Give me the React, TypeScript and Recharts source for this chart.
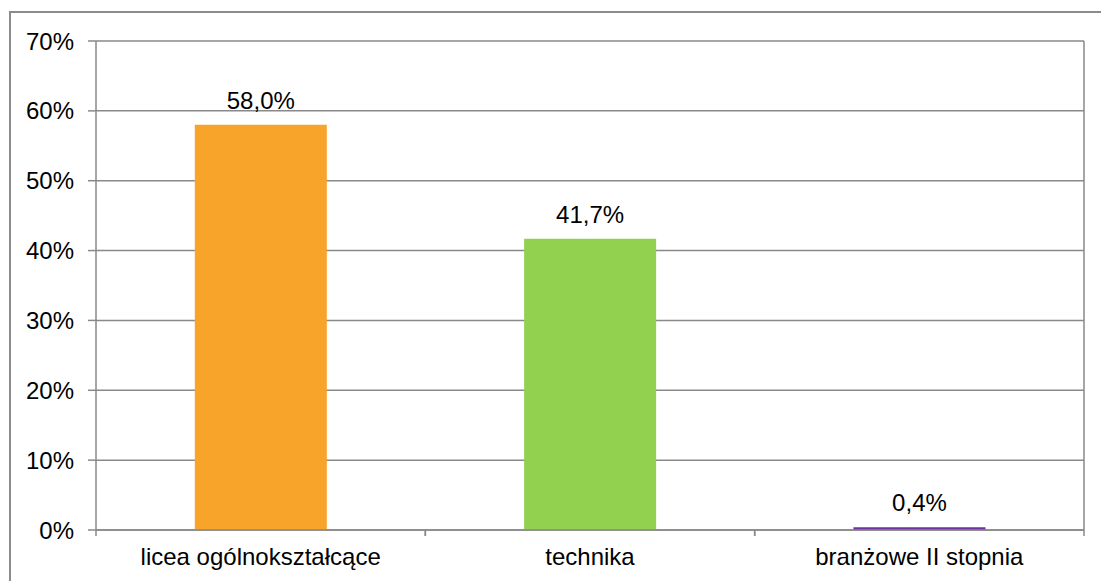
import { Bar, BarChart, CartesianGrid, Cell, LabelList, ReferenceLine, XAxis, YAxis } from "recharts";

const categories = ["licea ogólnokształcące", "technika", "branżowe II stopnia"];
const shares = [58.0, 41.7, 0.4];
const barColors = ["#F8A42B", "#92D050", "#7030A0"];
const yTicks = [0, 10, 20, 30, 40, 50, 60, 70];

const data = categories.map((name, i) => ({ name, share: shares[i] }));

const font = "'Liberation Sans', Arial, sans-serif";
const gray = "#898989";
const TICK_SIZE = 6;
const TICK_MARGIN = 12;

// label plus Excel-style tick marks on the band edges
function CategoryTick(props: any) {
  const { x, y, payload } = props;
  const half = payload && typeof payload.offset === "number" ? payload.offset : 0;
  const axisY = y - TICK_SIZE - TICK_MARGIN;
  return (
    <g>
      {half > 0 && (
        <>
          <line x1={x - half} x2={x - half} y1={axisY} y2={axisY + TICK_SIZE} stroke={gray} strokeWidth={1.5} />
          <line x1={x + half} x2={x + half} y1={axisY} y2={axisY + TICK_SIZE} stroke={gray} strokeWidth={1.5} />
        </>
      )}
      <text x={x} y={y} dy="0.71em" textAnchor="middle" fill="#000" fontSize={24} fontFamily={font}>
        {payload.value}
      </text>
    </g>
  );
}

function App() {
  return (
    <div
      style={{
        position: "absolute",
        left: 0,
        top: 0,
        width: 1101,
        height: 581,
        overflow: "hidden",
        background: "#fff",
      }}
    >
      <div
        style={{
          position: "absolute",
          left: 9,
          top: 11,
          width: 1200,
          height: 700,
          border: "2px solid #8c8c8c",
        }}
      />
      <div style={{ position: "absolute", left: 0, top: 0 }}>
        <BarChart
          width={1101}
          height={581}
          data={data}
          margin={{ top: 41, right: 16, left: 0, bottom: 0 }}
          barCategoryGap="30%"
          style={{ fontFamily: font }}
        >
          <CartesianGrid vertical={false} stroke={gray} strokeWidth={1.5} />
          <XAxis
            dataKey="name"
            height={51}
            axisLine={{ stroke: gray, strokeWidth: 1.5 }}
            tickLine={false}
            tickSize={TICK_SIZE}
            tickMargin={TICK_MARGIN}
            tick={<CategoryTick />}
            interval={0}
          />
          <YAxis
            width={96}
            domain={[0, 70]}
            ticks={yTicks}
            tickFormatter={(v: number) => `${v}%`}
            axisLine={{ stroke: gray, strokeWidth: 1.5 }}
            tickLine={{ stroke: gray, strokeWidth: 1.5 }}
            tickSize={8}
            tickMargin={14}
            tick={{ fill: "#000", fontSize: 24, fontFamily: font }}
          />
          <YAxis
            yAxisId="right"
            orientation="right"
            width={1}
            domain={[0, 70]}
            ticks={yTicks}
            axisLine={{ stroke: gray, strokeWidth: 1.5 }}
            tickLine={false}
            tick={false}
          />
          <Bar dataKey="share" isAnimationActive={false}>
            {data.map((d, i) => (
              <Cell key={d.name} fill={barColors[i]} />
            ))}
            <LabelList
              dataKey="share"
              position="top"
              offset={16}
              formatter={(v: number) => `${v.toFixed(1).replace(".", ",")}%`}
              style={{ fill: "#000", fontSize: 24, fontFamily: font }}
            />
          </Bar>
        </BarChart>
      </div>
    </div>
  );
}

export default App;
